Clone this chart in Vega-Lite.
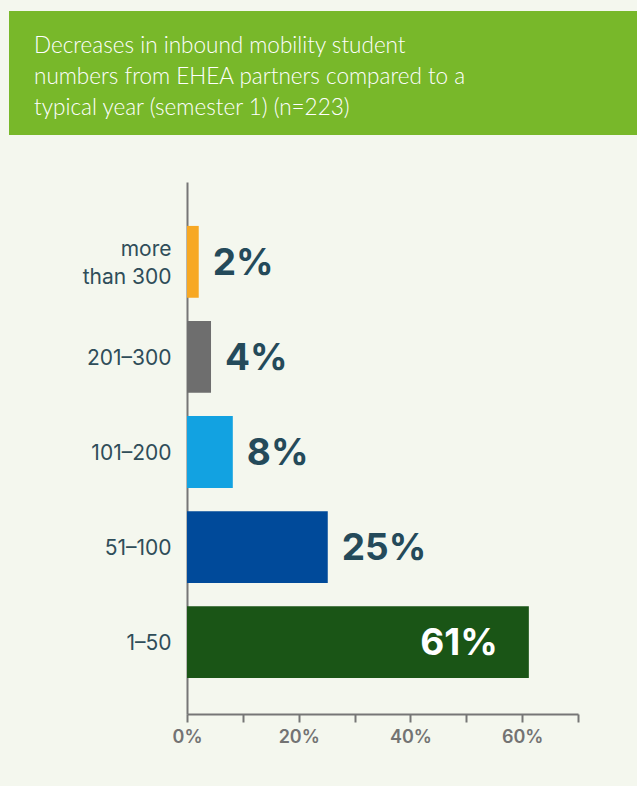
{
  "$schema": "https://vega.github.io/schema/vega-lite/v6.json",
  "background": "#f4f7ee",
  "padding": {"left": 9, "top": 11, "right": 0, "bottom": 40},
  "spacing": 47,
  "config": {"view": {"stroke": null}, "font": "Lato"},
  "vconcat": [
    {
      "width": 628,
      "height": 124,
      "view": {"fill": "#78b82a", "stroke": null},
      "title": {
        "text": ["Decreases in inbound mobility student", "numbers from EHEA partners compared to a", "typical year (semester 1) (n=223)"],
        "anchor": "start",
        "frame": "group",
        "orient": "top",
        "offset": -108,
        "dx": 25,
        "color": "#ffffff",
        "fontSize": 22.5,
        "fontWeight": 300,
        "font": "Lato",
        "lineHeight": 31
      },
      "data": {"values": []},
      "mark": "rect",
      "encoding": {}
    },
    {
      "width": 569,
      "height": 532,
      "data": {
        "values": [
          {"range": "more than 300", "pct": 2.1, "label": "2%"},
          {"range": "201–300", "pct": 4.3, "label": "4%"},
          {"range": "101–200", "pct": 8.2, "label": "8%"},
          {"range": "51–100", "pct": 25.2, "label": "25%"},
          {"range": "1–50", "pct": 61.2, "label": "61%"}
        ]
      },
      "encoding": {
        "y": {
          "field": "range",
          "type": "nominal",
          "sort": null,
          "scale": {"paddingInner": 0.2445, "paddingOuter": 0.42, "align": 0.55},
          "axis": {
            "title": null,
            "offset": -178,
            "domainColor": "#767676",
            "domainWidth": 2,
            "ticks": false,
            "labelPadding": 16,
            "labelFont": "Inter",
            "labelFontSize": 21,
            "labelColor": "#2f4d59",
            "labelLineHeight": 28,
            "labelOffset": {"condition": {"test": "datum.value == 'more than 300'", "value": -12}, "value": 2},
            "labelExpr": "datum.value == 'more than 300' ? ['more', 'than 300'] : datum.value",
            "minExtent": 0
          }
        },
        "x": {
          "field": "pct",
          "type": "quantitative",
          "scale": {"domain": [0, 70], "nice": false, "range": [178, 569]},
          "axis": {
            "title": null,
            "values": [0, 10, 20, 30, 40, 50, 60, 70],
            "grid": false,
            "domainColor": "#767676",
            "domainWidth": 2,
            "tickColor": "#767676",
            "tickWidth": 2,
            "tickSize": 8,
            "labelFlush": false,
            "labelExpr": "datum.value % 20 == 0 ? datum.value + '%' : ''",
            "labelFont": "Inter",
            "labelFontSize": 18,
            "labelFontWeight": 600,
            "labelColor": "#737373",
            "labelPadding": 6
          }
        }
      },
      "layer": [
        {
          "mark": {"type": "bar"},
          "encoding": {
            "color": {
              "field": "range",
              "type": "nominal",
              "sort": null,
              "scale": {
                "domain": ["more than 300", "201–300", "101–200", "51–100", "1–50"],
                "range": ["#f7a823", "#6e6e6e", "#12a2e1", "#004a9a", "#1a5516"]
              },
              "legend": null
            }
          }
        },
        {
          "transform": [{"filter": "datum.pct < 50"}],
          "mark": {"type": "text", "align": "left", "baseline": "middle", "dx": 14, "dy": 2, "font": "Inter", "fontWeight": "bold", "fontSize": 37, "color": "#244a5a"},
          "encoding": {"text": {"field": "label"}}
        },
        {
          "transform": [{"filter": "datum.pct >= 50"}],
          "mark": {"type": "text", "align": "right", "baseline": "middle", "dx": -31, "dy": 2, "font": "Inter", "fontWeight": "bold", "fontSize": 37, "color": "#ffffff"},
          "encoding": {"text": {"field": "label"}}
        }
      ]
    }
  ]
}
